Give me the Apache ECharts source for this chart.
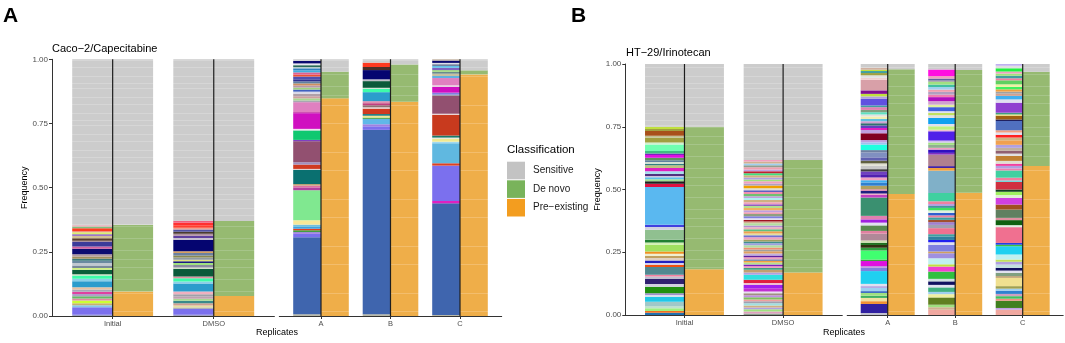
<!DOCTYPE html>
<html>
<head>
<meta charset="utf-8">
<script src="https://cdn.jsdelivr.net/npm/echarts@6/dist/echarts.min.js"></script>
<style>
  html, body { margin: 0; padding: 0; background: #fff; }
  #chart { width: 1065px; height: 343px; }
</style>
</head>
<body>
<div id="chart"></div>
<script>
// ---- data -------------------------------------------------------------
const earlyGroups = ['Initial', 'DMSO'];
const lateGroups = ['A', 'B', 'C'];

// classification shares per column: Initial, DMSO, A, B, C
const cacoPreExisting = [0.095, 0.078, 0.848, 0.835, 0.941];
const cacoDeNovo      = [0.260, 0.292, 0.104, 0.145, 0.016];
const cacoSensitive   = [0.645, 0.630, 0.048, 0.020, 0.043];

const htPreExisting = [0.182, 0.169, 0.482, 0.487, 0.594];
const htDeNovo      = [0.568, 0.449, 0.497, 0.489, 0.375];
const htSensitive   = [0.250, 0.382, 0.021, 0.024, 0.031];

// clone sizes, bottom to top (the rest of each bar is sensitive / grey)
const cacoInitialClones = [0.005,0.029,0.008,0.008,0.010,0.008,0.009,0.009,0.008,0.009,0.009,0.023,0.010,0.013,0.005,0.017,0.007,0.010,0.009,0.009,0.008,0.009,0.009,0.021,0.009,0.017,0.005,0.010,0.010,0.005,0.008,0.005,0.011,0.007,0.005];
const cacoInitialColors = ['#9aa0c8','#7b70ee','#88c8e8','#c8b070','#ccff33','#e08aa0','#66bb66','#b0a0c8','#e040a0','#a8a8b8','#e8c0a0','#2b9ccc','#8ad0e8','#3dfcaa','#d0e0c0','#0b5e3a','#d0f080','#7a8a9a','#c0c8d0','#6a8aa0','#3a7a7a','#a09060','#b09aa0','#0b0b70','#d060a0','#3b3b9a','#a890a0','#5a3d2e','#d0c090','#8050c0','#d8f070','#f09080','#ff3a1e','#80c080','#f0a0b0'];

const cacoDmsoClones = [0.005,0.023,0.005,0.008,0.009,0.009,0.008,0.009,0.009,0.010,0.032,0.007,0.013,0.007,0.030,0.005,0.010,0.007,0.007,0.006,0.009,0.008,0.009,0.007,0.045,0.007,0.009,0.007,0.008,0.009,0.007,0.010,0.009,0.008];
const cacoDmsoColors = ['#a0a0c8','#7b70ee','#a0a0a0','#e8e0a0','#d0a090','#3a8a8a','#a8d890','#c0a0b0','#a0a0a8','#f0b0c0','#2b9ccc','#8ad0e8','#3dfcaa','#e090a0','#0b5a3a','#d8e0c8','#8a8aa0','#a0e080','#1a1a80','#e0e080','#909aa0','#8a8a50','#6a80a0','#d8a060','#050570','#c8c0d0','#6040a0','#b090a0','#4a3a30','#5050a0','#f0a090','#ff4030','#ff3030','#f06080'];

const cacoAClones = [0.007,0.300,0.013,0.007,0.007,0.006,0.007,0.009,0.017,0.117,0.011,0.007,0.006,0.055,0.004,0.017,0.009,0.082,0.005,0.037,0.006,0.061,0.004,0.039,0.007,0.008,0.008,0.010,0.008,0.008,0.008,0.008,0.008,0.008,0.008,0.011,0.007,0.009,0.008,0.008,0.004,0.008,0.007,0.010];
const cacoAColors = ['#b8b8a8','#3f65ae','#7b70ee','#a080e0','#40a040','#e04020','#40a0e0','#70c0e0','#f8e898','#80e890','#b040a0','#e070a0','#c0a070','#0a7070','#e0d0d0','#d03a20','#a090c0','#925070','#8040c0','#10c870','#f0e0f0','#d010c0','#c020a0','#e080c0','#a8a8b0','#a8d890','#d0a0a0','#b0a0a8','#d8d8e8','#4060c0','#a0d080','#b898a8','#d09060','#6080a0','#303090','#5050b0','#f05030','#e06090','#40b0e0','#3080c0','#e0e8e8','#2a6a5a','#e8e8f0','#0a0a70'];

const cacoBClones = [0.007,0.718,0.014,0.008,0.021,0.005,0.007,0.007,0.021,0.005,0.008,0.008,0.008,0.035,0.013,0.004,0.026,0.007,0.036,0.012,0.017];
const cacoBColors = ['#b8b8a8','#3f65ae','#7b70ee','#a080e0','#60b8e8','#40a040','#f0e890','#2a8080','#d03a20','#e8d8d8','#907070','#c04080','#e090b0','#2b9ccc','#3dfcaa','#d0e0d0','#0b5a3a','#c0c0c8','#050570','#4a3028','#ff3a20'];

const cacoCClones = [0.004,0.435,0.009,0.138,0.009,0.078,0.006,0.011,0.005,0.008,0.081,0.004,0.069,0.005,0.008,0.022,0.007,0.028,0.008,0.009,0.007,0.007,0.009,0.007,0.007,0.005,0.009,0.005];
const cacoCColors = ['#b8b8a8','#3f65ae','#e020c0','#7b70ee','#e04020','#60b8e0','#a0d8f0','#f0e890','#e8e8d8','#1a7a6a','#c83a1e','#e8d8d8','#925070','#a0a0a8','#8080e0','#d010c0','#e8d0e0','#e080c0','#60b0e0','#c8c0a0','#6a8a8a','#a0d880','#8060c0','#60c0e8','#7080a0','#e0e0e8','#0a0a70','#c0b0a0'];

const htInitialClones = [0.009,0.007,0.011,0.009,0.017,0.020,0.007,0.007,0.026,0.011,0.019,0.010,0.007,0.031,0.009,0.007,0.010,0.010,0.009,0.008,0.009,0.027,0.009,0.011,0.040,0.011,0.009,0.150,0.013,0.010,0.008,0.008,0.005,0.009,0.010,0.013,0.011,0.006,0.007,0.007,0.009,0.011,0.006,0.010,0.026,0.008,0.019,0.008,0.019,0.008,0.009];
const htInitialColors = ['#2070b0','#f07020','#a0f080','#c0e0d0','#a0c8c8','#20c8e8','#d8e0f0','#a090d0','#209010','#d0d0e0','#302070','#c0c0d0','#f080a0','#508890','#f05010','#d0d0f0','#2020c0','#e0d0c0','#c0a060','#f0f0d0','#f09020','#a0e060','#d0f0b0','#208030','#90c090','#d0d0e0','#4040e0','#5ab8f0','#e01040','#202020','#a0e090','#60c0e8','#d0c0e0','#503080','#a0e0f0','#e020c0','#c0c080','#308080','#d0e0d0','#6080a0','#609060','#e010e0','#8020c0','#40c080','#70ffb0','#d0f0d0','#a0a040','#c0c090','#a8501a','#a0a040','#c0e040'];

const htDmsoClones = [0.006,0.008,0.009,0.007,0.008,0.009,0.008,0.007,0.009,0.008,0.008,0.007,0.013,0.013,0.007,0.013,0.020,0.009,0.011,0.007,0.007,0.007,0.008,0.006,0.007,0.008,0.007,0.008,0.009,0.007,0.008,0.009,0.008,0.007,0.008,0.009,0.008,0.007,0.009,0.008,0.008,0.007,0.009,0.007,0.005,0.007,0.008,0.009,0.007,0.008,0.009,0.008,0.007,0.008,0.009,0.008,0.007,0.009,0.008,0.007,0.008,0.011,0.008,0.009,0.007,0.008,0.009,0.008,0.008,0.007,0.009,0.008,0.007,0.008,0.006];
const htDmsoColors = ['#90a090','#e0a0c0','#a0e080','#b0a0e0','#d0b080','#a0e0e0','#a0a0b0','#f0a0a0','#80c060','#c090e0','#a09080','#e8e0f0','#c030d0','#a020f0','#f0c0d0','#e02040','#30e0e0','#b0a0e0','#c0a070','#40a080','#f0a0c0','#8020c0','#b0e090','#f0a040','#8090b0','#f0a0c0','#6020a0','#c0b0e0','#e0a060','#a0a0a0','#f09070','#b0e0a0','#a0a0e0','#409090','#a0a060','#f0a0c0','#7070d0','#e0e0a0','#f0a050','#60c080','#f0b0c0','#b090d0','#b0e0a0','#d0b090','#a01020','#e0e0f0','#8080e0','#90a080','#f0a0b0','#c0a0e0','#f0b060','#b0e090','#9060c0','#f0a0c0','#d0b080','#b0f0f0','#c0a0e0','#70c070','#f090b0','#6060c0','#e0e0d0','#f0a000','#b0a0c0','#f0a0c0','#a0e080','#b0a0e0','#d0b080','#40e080','#c02030','#c0a0e0','#f0a0b0','#90a090','#a0d0f0','#d0b090','#f0a0c0'];

const htAClones = [0.008,0.036,0.011,0.013,0.009,0.011,0.007,0.013,0.007,0.009,0.051,0.013,0.007,0.020,0.006,0.036,0.011,0.011,0.009,0.009,0.027,0.011,0.022,0.011,0.013,0.014,0.073,0.011,0.005,0.011,0.006,0.014,0.013,0.009,0.011,0.013,0.011,0.009,0.014,0.009,0.011,0.013,0.020,0.009,0.022,0.009,0.009,0.027,0.013,0.008,0.010,0.009,0.008,0.009,0.010,0.008,0.009,0.009,0.011,0.007,0.026,0.010,0.010,0.014,0.042,0.008,0.010,0.009,0.008,0.005,0.008];
const htAColors = ['#c0c0d0','#3020a0','#f09030','#f0e0a0','#40b060','#a0e080','#3060c0','#a0d0f0','#b0a0e0','#e0e0f0','#20d0f0','#8080e0','#c090e0','#e010e0','#40a040','#40ff70','#30a040','#303010','#207020','#d0e0b0','#b08898','#e080a0','#5a8a50','#e0e0f0','#a020e0','#e080b0','#3a9070','#c040c0','#f0a0c0','#202080','#e080a0','#b0a060','#3080d0','#40b0f0','#f0a0c0','#5020b0','#7040c0','#404040','#c8c8c8','#e0e0d0','#606040','#6060b0','#8090c0','#7080a0','#20ffe0','#a0c0f0','#c0a0e0','#800020','#c0a0e0','#e020c0','#6040c0','#307070','#d0a0d0','#60c0e0','#f0f0b0','#e0e0e0','#60e0c0','#80a080','#e080b0','#40a0a0','#6050e0','#b0a0e0','#c0e040','#801090','#d8a0a8','#f0d0d0','#e0e0e0','#a0a040','#40a0a0','#c0e040','#d0b0a0'];

const htBClones = [0.021,0.010,0.010,0.029,0.013,0.009,0.018,0.010,0.014,0.010,0.029,0.020,0.009,0.024,0.020,0.007,0.026,0.011,0.009,0.014,0.009,0.024,0.013,0.011,0.009,0.010,0.008,0.010,0.010,0.010,0.007,0.008,0.011,0.033,0.089,0.011,0.007,0.046,0.007,0.013,0.007,0.012,0.009,0.008,0.037,0.006,0.014,0.009,0.024,0.011,0.009,0.007,0.016,0.010,0.014,0.016,0.010,0.011,0.009,0.010,0.010,0.011,0.005,0.008,0.010,0.026];
const htBColors = ['#f0a8a0','#d0b090','#a0e080','#608020','#f0f0a0','#a0d0f0','#40b080','#e0e0f0','#101060','#d0e0e0','#30c040','#f040d0','#c0e040','#c0f0f0','#a090e0','#d0a060','#8080e0','#e0e0f0','#2020f0','#3080a0','#40a0a0','#f07090','#a0a0b0','#a080d0','#a05030','#40a0a0','#f080a0','#3060d0','#e0f0e0','#40e060','#309090','#b0a0e0','#f080a0','#40d0a0','#80b0c8','#f0a040','#3010a0','#b08090','#8030c0','#3010c0','#f0a0c0','#90b090','#a0e080','#d0c0f0','#5020e8','#f0c0d0','#c0f080','#e0e0f0','#10a0f0','#e0e0e0','#c0e060','#e0e0f0','#4060e0','#e0f0a0','#d0a0d0','#b010c0','#f080b0','#b0a0c0','#f0a0b0','#a0d0f0','#40c0a0','#a0e080','#a0a0a0','#6060a0','#f0a0c0','#ff10e0'];

const htCClones = [0.021,0.007,0.029,0.008,0.010,0.009,0.013,0.008,0.010,0.033,0.007,0.013,0.009,0.011,0.013,0.011,0.009,0.020,0.033,0.006,0.007,0.063,0.008,0.020,0.009,0.033,0.020,0.027,0.011,0.013,0.009,0.031,0.005,0.011,0.029,0.008,0.010,0.009,0.011,0.020,0.009,0.011,0.012,0.012,0.018,0.011,0.011,0.009,0.009,0.037,0.006,0.015,0.005,0.007,0.040,0.013,0.014,0.009,0.008,0.009,0.010,0.010,0.016,0.008,0.010,0.009,0.008,0.013,0.010,0.009];
const htCColors = ['#f0a8a0','#c0a0e0','#408020','#f09080','#40c060','#d0a0c0','#3080d0','#a0d0f0','#a0a050','#f0e090','#c0a070','#80a080','#e0e0f0','#101060','#c0e0e0','#b0a0e0','#c0e060','#c0f0f0','#20d0f0','#40c040','#2040e0','#f07090','#e0f0e0','#106010','#e090a0','#608060','#a05020','#d040e0','#e0f0d0','#a0f060','#104020','#d03040','#40e0e0','#f080a0','#40d0a0','#f080b0','#b0a0e0','#f040a0','#e0e0d0','#c08030','#e0e0e0','#906070','#c0b0a0','#b0a0e0','#f0a050','#d0b080','#ff2020','#e0e0f0','#f0a080','#5070c0','#202060','#a06010','#f0e070','#40a080','#9040d0','#e0e0f0','#40b0f0','#d0a090','#a0a0a0','#f0a040','#40f060','#f0f0a0','#60d060','#f080a0','#40a0a0','#a0e080','#f0a0c0','#20f040','#e0e0e0','#c0b0f0'];

// ---- styling ----------------------------------------------------------
const FONT = '"Liberation Sans", Arial, Helvetica, sans-serif';
const HALF = 0.4;

// faint lighter lines inside the classification blocks (many small clones)
function stripes(base, line, period, offsets) {
  const c = document.createElement('canvas');
  c.width = 4; c.height = period;
  const g = c.getContext('2d');
  g.fillStyle = base; g.fillRect(0, 0, 4, period);
  g.fillStyle = line;
  offsets.forEach(o => g.fillRect(0, o, 4, 1));
  return { image: c, repeat: 'repeat' };
}
const fillSensitive = stripes('#cccccc', '#d6d6d6', 37, [2, 9, 14, 23, 30]);
const fillDeNovo = stripes('#96ba71', '#a6c589', 41, [4, 13, 21, 33]);
const fillPreExisting = stripes('#efae49', '#f3bd6c', 47, [11, 29]);

function segRect(api, x, side, y0, y1) {
  const xl = side === 0 ? x - HALF : x;
  const a = api.coord([xl, Math.min(y1, 1)]);
  const b = api.coord([xl + HALF, y0]);
  return { x: a[0], y: a[1], width: b[0] - a[0], height: b[1] - a[1] };
}

function cloneSeries(axis, columns) {
  const data = [], fills = [];
  columns.forEach((col, x) => {
    let y = 0;
    col[0].forEach((h, i) => {
      data.push([x, y, y + h]);
      fills.push(col[1][i] || '#999');
      y += h;
    });
    if (y < 1) { data.push([x, y, 1]); fills.push(fillSensitive); }
  });
  return {
    type: 'custom', xAxisIndex: axis, yAxisIndex: axis, silent: true, z: 2,
    data,
    renderItem: (params, api) => ({
      type: 'rect',
      shape: segRect(api, api.value(0), 0, api.value(1), api.value(2)),
      style: { fill: fills[params.dataIndex] }
    })
  };
}

function classSeries(axis, pre, dn, sens) {
  const parts = [
    ['Pre\u2212existing', fillPreExisting, '#f39d1f', pre.map((v, i) => [i, 0, v])],
    ['De novo', fillDeNovo, '#79b35b', dn.map((v, i) => [i, pre[i], pre[i] + v])],
    ['Sensitive', fillSensitive, '#c3c3c3', sens.map((v, i) => [i, pre[i] + dn[i], 1])]
  ];
  return parts.map(([name, fill, color, data]) => ({
    type: 'custom', name, xAxisIndex: axis, yAxisIndex: axis, silent: true, z: 2,
    itemStyle: { color },
    data,
    renderItem: (params, api) => ({
      type: 'rect',
      shape: segRect(api, api.value(0), 1, api.value(1), api.value(2)),
      style: { fill }
    })
  }));
}

function dividerSeries(axis, groups) {
  return {
    type: 'custom', xAxisIndex: axis, yAxisIndex: axis, silent: true, z: 3,
    data: groups.map((g, i) => [i, 0]),
    renderItem: (params, api) => {
      const a = api.coord([api.value(0), 0]);
      const b = api.coord([api.value(0), 1]);
      return { type: 'line', shape: { x1: a[0], y1: a[1], x2: b[0], y2: b[1] },
               style: { stroke: '#1e1e1e', lineWidth: 1.2 } };
    }
  };
}

function xAxisFor(idx, groups) {
  const ticks = groups.map((g, i) => i);
  return {
    type: 'value', gridIndex: idx, min: -0.6, max: groups.length - 0.4,
    axisLine: { show: true, onZero: false, lineStyle: { color: '#333', width: 1 } },
    axisTick: { show: true, length: 3, customValues: ticks, lineStyle: { color: '#333' } },
    axisLabel: { customValues: ticks, formatter: v => groups[Math.round(v)] || '',
                 color: '#4d4d4d', fontSize: 7.5, margin: 4, fontFamily: FONT },
    splitLine: { show: false }
  };
}

function yAxisFor(idx) {
  const visible = idx % 2 === 0;
  return {
    type: 'value', gridIndex: idx, min: 0, max: 1, interval: 0.25, show: visible,
    name: visible ? 'Frequency' : '', nameLocation: 'middle', nameGap: 21,
    nameTextStyle: { fontSize: 9, color: '#000', fontFamily: FONT },
    axisLine: { show: true, onZero: false, lineStyle: { color: '#333', width: 1 } },
    axisTick: { show: true, length: 3, lineStyle: { color: '#333' } },
    axisLabel: { formatter: v => v.toFixed(2), color: '#4d4d4d', fontSize: 8, margin: 4, fontFamily: FONT },
    splitLine: { show: false }
  };
}

const txt = (x, y, text, size, extra) => ({
  type: 'text', x, y, silent: true,
  style: Object.assign({ text, fontSize: size, fontFamily: FONT, fill: '#000',
                         textAlign: 'left', textVerticalAlign: 'middle' }, extra || {})
});

const chart = echarts.init(document.getElementById('chart'), null, { renderer: 'canvas' });

chart.setOption({
  animation: false,
  backgroundColor: '#fff',
  grid: [
    { left: 52, top: 59.3, width: 222.4, height: 256.7 },
    { left: 279.3, top: 59.3, width: 222.4, height: 256.7 },
    { left: 625.3, top: 64, width: 217, height: 251 },
    { left: 847.2, top: 64, width: 216, height: 251 }
  ],
  xAxis: [xAxisFor(0, earlyGroups), xAxisFor(1, lateGroups), xAxisFor(2, earlyGroups), xAxisFor(3, lateGroups)],
  yAxis: [yAxisFor(0), yAxisFor(1), yAxisFor(2), yAxisFor(3)],
  legend: {
    orient: 'vertical', left: 507, top: 161.7, padding: 0,
    itemWidth: 18, itemHeight: 17.6, itemGap: 1, icon: 'rect', selectedMode: false,
    textStyle: { fontSize: 10, color: '#1a1a1a', fontFamily: FONT, padding: [0, 0, 0, 3] },
    data: [
      { name: 'Sensitive', itemStyle: { color: '#c3c3c3' } },
      { name: 'De novo', itemStyle: { color: '#79b35b' } },
      { name: 'Pre\u2212existing', itemStyle: { color: '#f39d1f' } }
    ]
  },
  graphic: [
    txt(3, 16, 'A', 21, { fontWeight: 'bold' }),
    txt(571, 16, 'B', 21, { fontWeight: 'bold' }),
    txt(52, 48.5, 'Caco\u22122/Capecitabine', 11),
    txt(626, 53, 'HT\u221229/Irinotecan', 11),
    txt(277, 333, 'Replicates', 9, { textAlign: 'center' }),
    txt(844, 333, 'Replicates', 9, { textAlign: 'center' }),
    txt(507, 149.5, 'Classification', 11.5)
  ],
  series: [
    cloneSeries(0, [[cacoInitialClones, cacoInitialColors], [cacoDmsoClones, cacoDmsoColors]]),
    ...classSeries(0, cacoPreExisting.slice(0, 2), cacoDeNovo.slice(0, 2), cacoSensitive.slice(0, 2)),
    dividerSeries(0, earlyGroups),
    cloneSeries(1, [[cacoAClones, cacoAColors], [cacoBClones, cacoBColors], [cacoCClones, cacoCColors]]),
    ...classSeries(1, cacoPreExisting.slice(2), cacoDeNovo.slice(2), cacoSensitive.slice(2)),
    dividerSeries(1, lateGroups),
    cloneSeries(2, [[htInitialClones, htInitialColors], [htDmsoClones, htDmsoColors]]),
    ...classSeries(2, htPreExisting.slice(0, 2), htDeNovo.slice(0, 2), htSensitive.slice(0, 2)),
    dividerSeries(2, earlyGroups),
    cloneSeries(3, [[htAClones, htAColors], [htBClones, htBColors], [htCClones, htCColors]]),
    ...classSeries(3, htPreExisting.slice(2), htDeNovo.slice(2), htSensitive.slice(2)),
    dividerSeries(3, lateGroups)
  ]
});
</script>
</body>
</html>
